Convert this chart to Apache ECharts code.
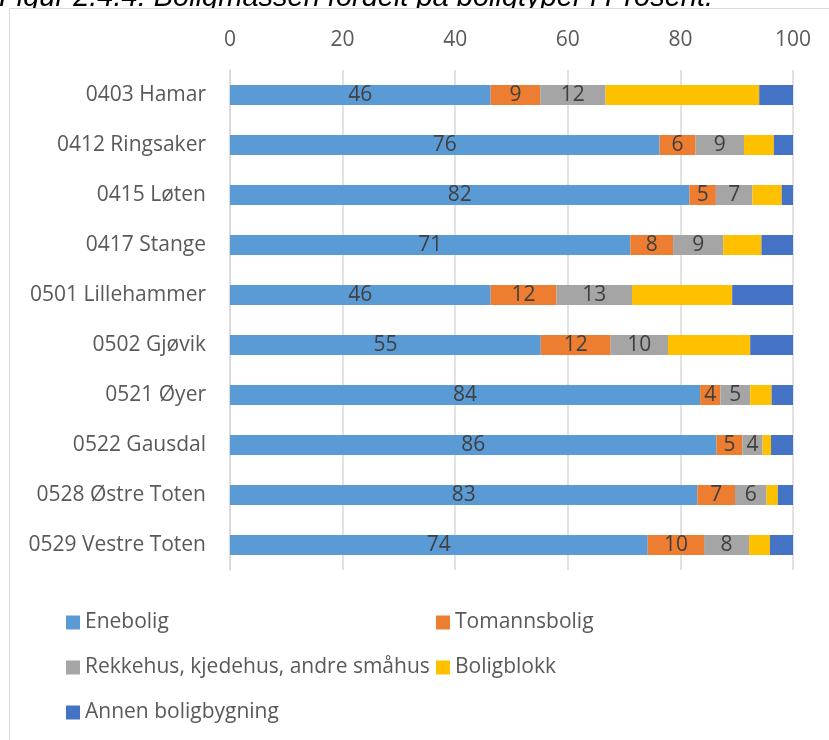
<!DOCTYPE html>
<html>
<head>
<meta charset="utf-8">
<script src="https://cdn.jsdelivr.net/npm/echarts@6/dist/echarts.min.js"></script>
<style>
html,body{margin:0;padding:0;background:#fff;}
#c{width:829px;height:740px;}
</style>
</head>
<body>
<div id="c"></div>
<script>
const categories = ['0403 Hamar','0412 Ringsaker','0415 Løten','0417 Stange','0501 Lillehammer','0502 Gjøvik','0521 Øyer','0522 Gausdal','0528 Østre Toten','0529 Vestre Toten'];
const seriesNames = ['Enebolig','Tomannsbolig','Rekkehus, kjedehus, andre småhus','Boligblokk','Annen boligbygning'];
const enebolig     = [46.3, 76.3, 81.6, 71.1, 46.3, 55.2, 83.5, 86.4, 83.0, 74.2];
const tomannsbolig = [8.8, 6.4, 4.7, 7.6, 11.7, 12.4, 3.6, 4.6, 6.7, 10.0];
const rekkehus     = [11.6, 8.6, 6.5, 8.9, 13.4, 10.2, 5.3, 3.6, 5.6, 8.0];
const boligblokk   = [27.3, 5.3, 5.2, 6.8, 17.8, 14.6, 3.8, 1.5, 2.0, 3.7];
const annen        = [6.0, 3.4, 2.0, 5.6, 10.8, 7.6, 3.8, 3.9, 2.7, 4.1];
const xTicks = [0, 20, 40, 60, 80, 100];

const colors = ['#5B9BD5','#ED7D31','#A5A5A5','#FFC000','#4472C4'];
const values = [enebolig, tomannsbolig, rekkehus, boligblokk, annen];
const FONT = 'Open Sans';
const FS = 21;

const chart = echarts.init(document.getElementById('c'), null, {renderer:'canvas'});

const series = seriesNames.map((n,i)=>({
  name:n, type:'bar', stack:'total', barWidth:20,
  itemStyle:{color:colors[i]},
  label:{show:i<3, position:'inside', color:'#404040', fontFamily:FONT, fontSize:FS,
    formatter:p=>Math.round(p.value)},
  data:values[i]
}));

const legendBase = {orient:'horizontal', icon:'rect', itemWidth:14, itemHeight:14, padding:0,
  textStyle:{color:'#595959', fontFamily:FONT, fontSize:FS}};
const legendPos = [[66,612],[436,612],[66,657],[436,657],[66,702]];

chart.setOption({
  animation:false,
  color:colors,
  graphic:[
    {type:'text', left:-1, top:-17, z:1, style:{text:'Figur 2.4.4: Boligmassen fordelt på boligtyper i Prosent.', fill:'#000', font:'italic 29px "Liberation Sans"'}},
    {type:'rect', z:2, shape:{x:9.5,y:8.5,width:900,height:16}, style:{fill:'#fff', stroke:null}, silent:true},
    {type:'rect', z:3, shape:{x:9.5,y:8.5,width:900,height:800}, style:{fill:'none', stroke:'#d9d9d9', lineWidth:1}, silent:true}
  ],
  grid:{left:230, right:36, top:70, height:500, containLabel:false},
  xAxis:{type:'value', position:'top', min:xTicks[0], max:xTicks[xTicks.length-1], interval:20,
    axisLine:{show:false}, axisTick:{show:false},
    splitLine:{lineStyle:{color:'#d9d9d9', width:1.5}},
    axisLabel:{color:'#595959', fontFamily:FONT, fontSize:FS, margin:19}},
  yAxis:{type:'category', data:categories, inverse:true,
    axisLine:{lineStyle:{color:'#d9d9d9', width:1.5}}, axisTick:{show:false},
    axisLabel:{color:'#595959', fontFamily:FONT, fontSize:FS, margin:24}},
  legend: seriesNames.map((n,i)=>Object.assign({}, legendBase, {data:[n], left:legendPos[i][0], top:legendPos[i][1]})),
  series
});
</script>
</body>
</html>
